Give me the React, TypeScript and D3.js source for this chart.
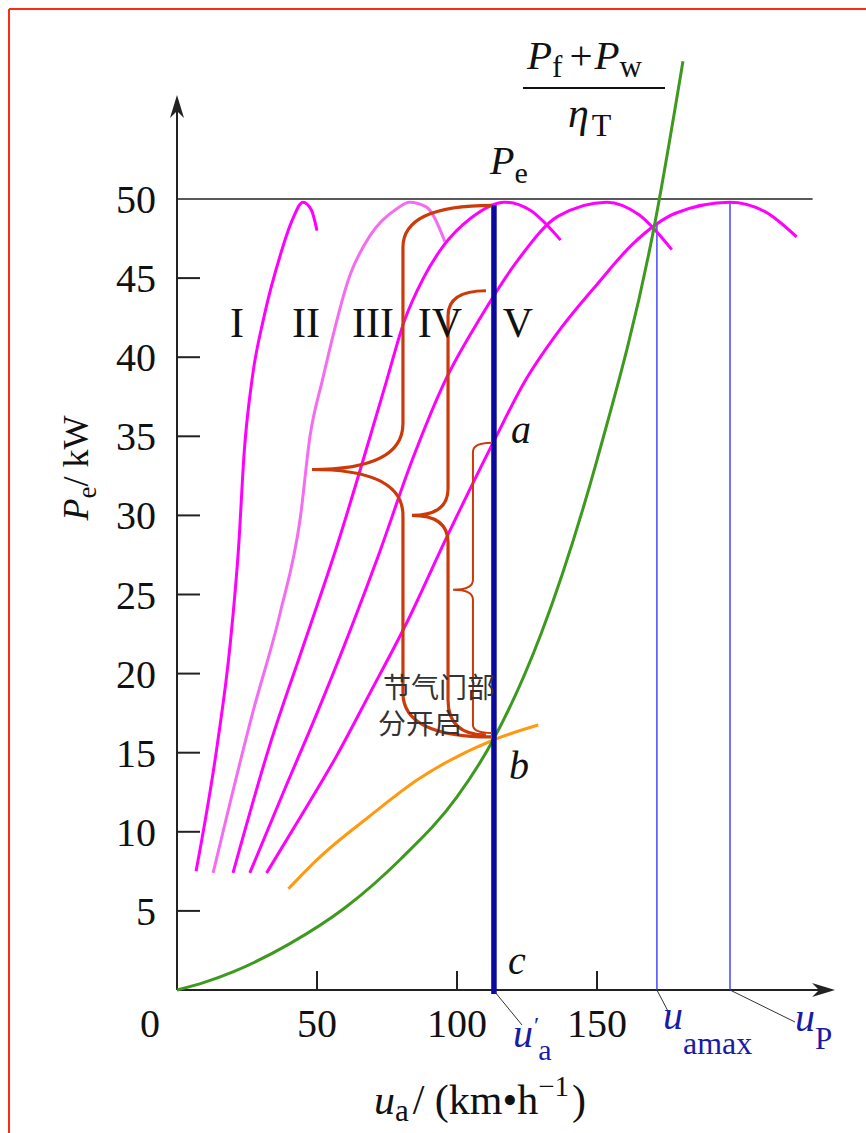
import React from 'react';
import * as d3 from 'd3';

const W = 866;
const H = 1133;

// power curves of gears I..V : [u (km/h), Pe (kW)]
const gearNames = ['I', 'II', 'III', 'IV', 'V'];
const gear1 = [[6.8, 7.5], [14.3, 15.4], [18.9, 21.7], [22, 28], [24, 34], [26.8, 38.6], [31, 42.5], [36.8, 46.4], [41, 48.6], [45, 49.8], [48, 49.3], [50, 48]];
const gear2 = [[12.9, 7.4], [27, 17.5], [36.8, 23.8], [44, 29.8], [47.5, 35], [52, 38.6], [61.8, 45.2], [69, 47.7], [78.6, 49.4], [83, 49.8], [89, 49.5], [95.7, 47.3]];
const gear3 = [[20, 7.4], [33, 15.4], [45, 21.7], [57, 28], [69, 35], [75, 38.6], [81, 42.2], [88, 45], [95, 47], [105, 48.8], [117, 49.8], [126, 49.3], [137, 47.4]];
const gear4 = [[26, 7.4], [38, 12.5], [50, 17.5], [62, 22.8], [72, 27.5], [84, 33.5], [96, 38.6], [108, 42.4], [122, 46.2], [136, 48.9], [153.5, 49.8], [165, 49], [176.7, 46.8]];
const gear5 = [[32, 7.4], [45, 11.2], [57, 14.8], [69, 18.8], [82, 23.2], [96, 28.5], [112.9, 34.6], [124, 38.4], [137, 41.8], [150, 44.6], [163, 47.2], [178, 49.1], [197.5, 49.8], [210, 49.2], [221.3, 47.6]];
const gears = [gear1, gear2, gear3, gear4, gear5];

// resistance power (Pf + Pw) / etaT
const resistance = [[0, 0], [10, 0.5], [20, 1.15], [40, 2.9], [60, 5.2], [80, 8.3], [100, 12.2], [112.9, 15.8], [130, 22.5], [150, 33.5], [170.7, 48.5], [180.7, 58.7]];
// throttle partly open
const partThrottle = [[39.8, 6.4], [51, 8.4], [68.9, 11.0], [86, 13.3], [112.9, 15.8], [129, 16.75]];

const yTicks = [5, 10, 15, 20, 25, 30, 35, 40, 45, 50];
const xTicks = [50, 100, 150];

const uaPrime = 113.2;
const uaMax = 171.4;
const uP = 197.5;
const pA = 34.6;
const pB = 16;
const pTop = 49.6;

const serif = '"Liberation Serif", "DejaVu Serif", serif';
const magenta = '#ff00ff';
const braceColor = '#cc3a0a';

const x = d3.scaleLinear().domain([0, 100]).range([177, 457]);
const y = d3.scaleLinear().domain([0, 50]).range([990, 199]);

const line = d3.line<number[]>().x(d => x(d[0])).y(d => y(d[1])).curve(d3.curveMonotoneX);

function brace(xe: number, yt: number, yb: number, xc: number, xt: number, yTip: number, rEnd: number, rTip: number, rEndB: number) {
  return `M${xe},${yt} Q${xc},${yt} ${xc},${yt + rEnd} L${xc},${yTip - rTip} Q${xc},${yTip} ${xt},${yTip}` +
    ` Q${xc},${yTip} ${xc},${yTip + rTip} L${xc},${yb - rEndB} Q${xc},${yb} ${xe},${yb}`;
}

const App = () => {
  const x0 = x(0), y0 = y(0);
  const xa = x(uaPrime);
  return (
    <svg width={W} height={H} style={{ position: 'absolute', left: 0, top: 0, background: '#fff' }}>
      {/* frame */}
      <line x1={9} y1={9} x2={W} y2={9} stroke="#ff2a10" strokeWidth={2} />
      <line x1={9} y1={9} x2={9} y2={H} stroke="#ff2a10" strokeWidth={2} />

      {/* axes */}
      <line x1={x0} y1={y0} x2={x0} y2={100} stroke="#222" strokeWidth={2} />
      <path d={`M${x0},95 L${x0 - 7},118 L${x0},111 L${x0 + 7},118 Z`} fill="#222" />
      <line x1={x0} y1={y0} x2={830} y2={y0} stroke="#222" strokeWidth={2} />
      <path d={`M835,${y0} L812,${y0 - 7} L819,${y0} L812,${y0 + 7} Z`} fill="#222" />
      <line x1={x0} y1={y(50)} x2={x(227)} y2={y(50)} stroke="#222" strokeWidth={1.5} />

      {yTicks.filter(t => t < 50).map(t => (
        <line key={'yt' + t} x1={x0} x2={x0 + 23} y1={y(t)} y2={y(t)} stroke="#222" strokeWidth={2} />
      ))}
      {yTicks.map(t => (
        <text key={'yl' + t} x={156} y={y(t)} dy="0.35em" textAnchor="end" fontFamily={serif} fontSize={40} fill="#111">{t}</text>
      ))}
      {xTicks.map(t => (
        <line key={'xt' + t} x1={x(t)} x2={x(t)} y1={y0} y2={y0 - 19} stroke="#222" strokeWidth={2} />
      ))}
      <text x={x0 - 27} y={1037} textAnchor="middle" fontFamily={serif} fontSize={40} fill="#111">0</text>
      {xTicks.map(t => (
        <text key={'xl' + t} x={x(t)} y={1037} textAnchor="middle" fontFamily={serif} fontSize={40} fill="#111">{t}</text>
      ))}

      {/* thin blue verticals */}
      <line x1={x(uaMax)} x2={x(uaMax)} y1={y0} y2={y(48.4)} stroke="#2a2aff" strokeWidth={1.3} />
      <line x1={x(uP)} x2={x(uP)} y1={y0} y2={y(49.8)} stroke="#2a2aff" strokeWidth={1.3} />

      {/* gear curves */}
      {gears.map((g, i) => (
        <path key={gearNames[i]} d={line(g) || ''} fill="none" stroke={i === 1 ? '#f46cf0' : magenta} strokeWidth={3} />
      ))}
      <path d={line(partThrottle) || ''} fill="none" stroke="#ff9a10" strokeWidth={3} />
      <path d={line(resistance) || ''} fill="none" stroke="#3d9a1e" strokeWidth={3} />

      {/* u'a line */}
      <line x1={xa} x2={xa} y1={y0 + 4} y2={y(pTop)} stroke="#0a0a9e" strokeWidth={5.5} />

      {/* braces */}
      <path d={brace(xa - 2, y(pTop), y(pB), x(80.7), x(48.2), y(32.9), 42, 46, 44)} fill="none" stroke={braceColor} strokeWidth={3.2} />
      <path d={brace(xa - 8, y(44.2), y(pB) - 2, x(96.8), x(83.9), y(30), 25, 27, 35)} fill="none" stroke={braceColor} strokeWidth={3.2} />
      <path d={brace(xa - 2, y(pA), y(pB) - 4, x(105.7), x(98.6), y(25.3), 9, 10, 8)} fill="none" stroke={braceColor} strokeWidth={2} />

      {/* gear labels */}
      {gearNames.map((n, i) => (
        <text key={'g' + n} x={x([21.4, 46.1, 70, 93.9, 121.8][i])} y={337} textAnchor="middle" fontFamily={serif} fontSize={42} fill="#111">{n}</text>
      ))}

      {/* point labels */}
      <text x={511} y={443} fontFamily={serif} fontStyle="italic" fontSize={40} fill="#111">a</text>
      <text x={509} y={779} fontFamily={serif} fontStyle="italic" fontSize={40} fill="#111">b</text>
      <text x={508} y={974} fontFamily={serif} fontStyle="italic" fontSize={40} fill="#111">c</text>

      <text x={383} y={698} fontFamily='"Noto Sans CJK SC", sans-serif' fontSize={28} fill="#333">节气门部</text>
      <text x={378} y={734} fontFamily='"Noto Sans CJK SC", sans-serif' fontSize={28} fill="#333">分开启</text>

      {/* Pe label */}
      <text x={490} y={174} fontFamily={serif} fontSize={40} fill="#111">
        <tspan fontStyle="italic">P</tspan><tspan fontSize={30} dy={9}>e</tspan>
      </text>

      {/* formula */}
      <text x={527} y={69} fontFamily={serif} fontSize={41} fill="#111">
        <tspan fontStyle="italic">P</tspan><tspan fontSize={31} dy={8}>f</tspan>
        <tspan dx={7} dy={-8}>+</tspan><tspan dx={2} fontStyle="italic">P</tspan><tspan fontSize={31} dy={8}>w</tspan>
      </text>
      <line x1={523} x2={665} y1={88} y2={88} stroke="#111" strokeWidth={2} />
      <text x={568} y={127} fontFamily={serif} fontSize={42} fill="#111">
        <tspan fontStyle="italic">η</tspan><tspan fontSize={32} dx={3} dy={9}>T</tspan>
      </text>

      {/* leaders and speed labels */}
      <line x1={xa + 1} y1={y0 + 2} x2={522} y2={1025} stroke="#333" strokeWidth={1} />
      <line x1={x(uaMax)} y1={y0} x2={670} y2={1015} stroke="#333" strokeWidth={1} />
      <line x1={x(uP)} y1={y0} x2={795} y2={1022} stroke="#333" strokeWidth={1} />
      <text x={513} y={1047} fontFamily={serif} fontSize={40} fill="#1a1aa8">
        <tspan fontStyle="italic">u</tspan><tspan fontSize={24} dx={1} dy={-14}>′</tspan><tspan fontSize={30} dx={-1} dy={27}>a</tspan>
      </text>
      <text x={663} y={1029} fontFamily={serif} fontSize={40} fill="#1a1aa8">
        <tspan fontStyle="italic">u</tspan><tspan fontSize={32} dy={25}>amax</tspan>
      </text>
      <text x={795} y={1031} fontFamily={serif} fontSize={40} fill="#1a1aa8">
        <tspan fontStyle="italic">u</tspan><tspan fontSize={31} dy={18}>P</tspan>
      </text>

      {/* axis titles */}
      <text x={480} y={1114} textAnchor="middle" fontFamily={serif} fontSize={42} fill="#111">
        <tspan fontStyle="italic">u</tspan><tspan fontSize={31} dy={7}>a</tspan><tspan dx={4} dy={-7}>/ (km•h</tspan>
        <tspan fontSize={29} dy={-18}>−1</tspan><tspan dx={3} dy={18}>)</tspan>
      </text>
      <text transform="translate(88,468) rotate(-90)" textAnchor="middle" fontFamily={serif} fontSize={36} fill="#111">
        <tspan fontStyle="italic">P</tspan><tspan fontSize={27} dy={8}>e</tspan><tspan dy={-8}>/ kW</tspan>
      </text>
    </svg>
  );
};

export default App;
